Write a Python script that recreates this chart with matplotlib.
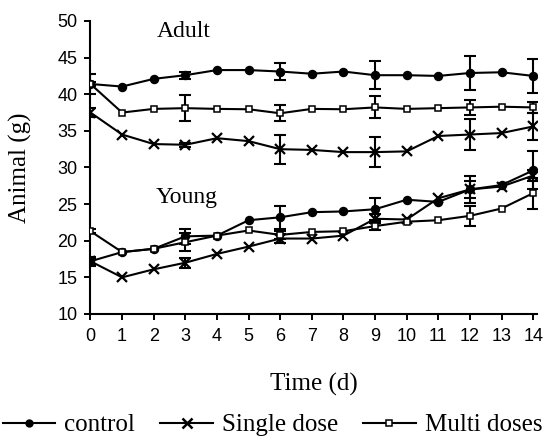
import matplotlib
matplotlib.use("Agg")
import matplotlib.pyplot as plt
from matplotlib.lines import Line2D

plt.rcParams['font.family'] = 'Liberation Serif'

# 数据
days = list(range(15))
err_days = [0, 3, 6, 9, 12, 14]

adult_control = [41.4, 41.05, 42.1, 42.6, 43.3, 43.3, 43.1, 42.8, 43.1, 42.6, 42.6, 42.5, 42.9, 43.0, 42.5]
adult_control_err = [1.4, 0.5, 1.2, 1.9, 2.3, 2.3]
adult_single = [37.5, 34.5, 33.2, 33.1, 34.0, 33.6, 32.5, 32.4, 32.1, 32.1, 32.2, 34.3, 34.5, 34.7, 35.6]
adult_single_err = [0.6, 0.3, 2.0, 2.1, 2.1, 1.8]
adult_multi = [41.4, 37.5, 38.0, 38.1, 38.0, 37.95, 37.4, 38.0, 37.95, 38.2, 38.0, 38.1, 38.2, 38.3, 38.2]
adult_multi_err = [0.3, 1.8, 1.1, 1.5, 1.0, 0.8]

young_control = [17.2, 18.45, 18.9, 20.6, 20.7, 22.8, 23.2, 23.9, 24.0, 24.3, 25.6, 25.3, 27.0, 27.6, 29.6]
young_control_err = [0.4, 1.0, 1.6, 1.5, 1.8, 2.6]
young_single = [17.2, 15.0, 16.1, 17.0, 18.2, 19.2, 20.3, 20.3, 20.7, 23.0, 22.9, 25.8, 27.0, 27.4, 28.9]
young_single_err = [0.6, 0.7, 0.6, 0.6, 1.1, 0.8]
young_multi = [21.3, 18.45, 18.9, 19.8, 20.7, 21.4, 20.8, 21.2, 21.3, 22.0, 22.6, 22.8, 23.4, 24.4, 26.5]
young_multi_err = [0.3, 1.2, 0.5, 0.5, 1.35, 2.1]

labels = ['control', 'Single dose', 'Multi doses']

style_control = dict(marker='o', ms=5.8, mfc='black', mec='black')
style_single = dict(marker='x', ms=7.5, mew=1.6, mec='black')
style_multi = dict(marker='s', ms=4.6, mfc='white', mec='black', mew=1.1)

fig = plt.figure(figsize=(5.45, 4.41), dpi=100)
ax = fig.add_axes([0.166, 0.288, 0.8187, 0.6644])


def draw(values, errs, style):
    ax.plot(days, values, color='black', lw=1.5, zorder=3, **style)
    ax.errorbar(err_days, [values[d] for d in err_days], yerr=errs, fmt='none',
                ecolor='black', elinewidth=1.5, capsize=4, capthick=1.5, zorder=2)


draw(adult_control, adult_control_err, style_control)
draw(adult_single, adult_single_err, style_single)
draw(adult_multi, adult_multi_err, style_multi)
draw(young_control, young_control_err, style_control)
draw(young_single, young_single_err, style_single)
draw(young_multi, young_multi_err, style_multi)

ax.text(2.1, 47.86, 'Adult', fontsize=17, ha='left', va='baseline')
ax.text(2.05, 25.1, 'Young', fontsize=17, ha='left', va='baseline')

# 坐标轴
ax.set_xlim(0, 14.11)
ax.set_ylim(10, 50)
ax.set_xticks(days)
ax.set_yticks(range(10, 51, 5))
ax.spines['top'].set_visible(False)
ax.spines['right'].set_visible(False)
for s in ['left', 'bottom']:
    ax.spines[s].set_linewidth(1.5)
ax.tick_params(direction='out', length=4.3, width=1.4, labelsize=13,
               labelfontfamily='Liberation Sans')
ax.tick_params(axis='x', pad=6)
ax.tick_params(axis='y', pad=5)

ax.set_xlabel('Time (d)', fontsize=18)
ax.xaxis.set_label_coords(0.5, -0.2)
ax.set_ylabel('Animal (g)', fontsize=18)
ax.yaxis.set_label_coords(-0.132, 0.5)

# 图例
handles = [Line2D([], [], color='black', lw=1.5, marker='o', ms=5, mfc='black', mec='black'),
           Line2D([], [], color='black', lw=1.5, marker='x', ms=6.5, mew=1.8, mec='black'),
           Line2D([], [], color='black', lw=1.5, marker='s', ms=4.5, mfc='white', mec='black', mew=1.1)]
fig.legend(handles, labels, loc='center', bbox_to_anchor=(0.5, 0.036), ncol=3,
           frameon=False, fontsize=18, handlelength=2.1, handletextpad=0.36,
           columnspacing=1.0, borderpad=0, borderaxespad=0)

fig.savefig('out.png', dpi=100)
